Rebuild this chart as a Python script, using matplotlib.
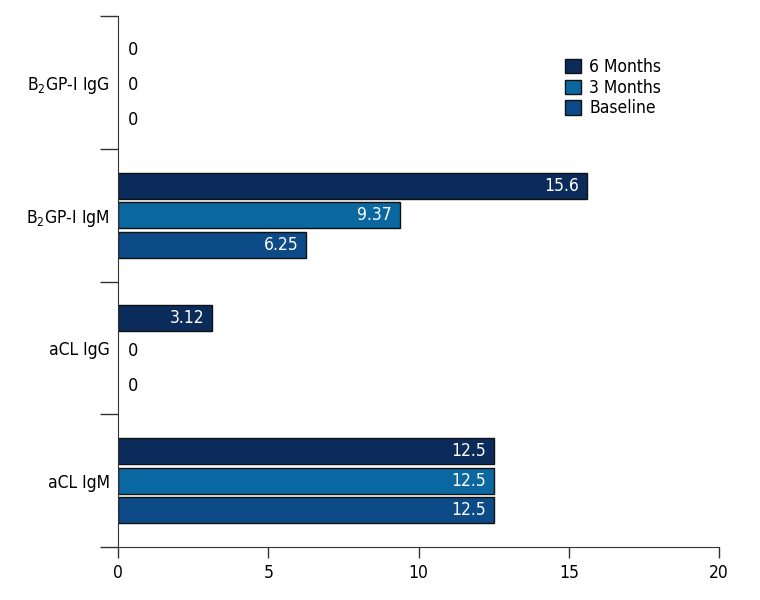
import numpy as np
import matplotlib
matplotlib.use('Agg')
import matplotlib.pyplot as plt
from matplotlib.patches import Patch

plt.rcParams['font.family'] = ['DejaVu Sans']
plt.rcParams['font.stretch'] = 'condensed'
plt.rcParams['mathtext.fontset'] = 'custom'
plt.rcParams['mathtext.rm'] = 'DejaVu Sans:stretch=condensed'

categories = ['aCL IgM', 'aCL IgG', 'B$_2$GP-I IgM', 'B$_2$GP-I IgG']
series = ['6 Months', '3 Months', 'Baseline']
six_months = [12.5, 3.12, 15.6, 0]
three_months = [12.5, 0, 9.37, 0]
baseline = [12.5, 0, 6.25, 0]
value_labels = {
    '6 Months': ['12.5', '3.12', '15.6', '0'],
    '3 Months': ['12.5', '0', '9.37', '0'],
    'Baseline': ['12.5', '0', '6.25', '0'],
}
colors = ['#0b2c5b', '#0a67a0', '#0c4a88']

fig = plt.figure(figsize=(7.6, 6), dpi=100)
ax = fig.add_axes([0.1553, 0.0883, 0.7908, 0.885])

y = np.arange(len(categories))
h = 0.195
offsets = [0.222, 0, -0.222]
for vals, name, c, off in zip([six_months, three_months, baseline], series, colors, offsets):
    vals = np.array(vals)
    nz = vals > 0
    ax.barh((y + off)[nz], vals[nz], height=h, color=c, edgecolor='#111111', linewidth=1)
    for yi, v, lab in zip(y, vals, value_labels[name]):
        if v > 0:
            ax.text(v - 0.25, yi + off, lab, color='white', ha='right', va='center', fontsize=12.5)
        else:
            ax.text(0.33, yi + off * 1.2 - 0.02, lab, color='black', ha='left', va='center', fontsize=13)

ax.set_xlim(0, 20)
ax.set_ylim(-0.5, 3.5)
ax.set_xticks([0, 5, 10, 15, 20])
ax.set_yticks(y)
ax.set_yticklabels(categories, fontsize=12.5)
ax.set_yticks([-0.5, 0.5, 1.5, 2.5, 3.5], minor=True)
ax.tick_params(axis='y', which='major', length=0, pad=6)
ax.tick_params(axis='y', which='minor', length=13, width=1, color='#333333')
ax.tick_params(axis='x', length=8, width=1, color='#333333', labelsize=12.5, pad=4)
for s in ['top', 'right']:
    ax.spines[s].set_visible(False)
for s in ['left', 'bottom']:
    ax.spines[s].set_color('#333333')

handles = [Patch(facecolor=c, edgecolor='#111111', label=n) for c, n in zip(colors, series)]
ax.legend(handles=handles, loc='upper left', bbox_to_anchor=(0.718, 0.95), frameon=False,
          fontsize=12.5, handlelength=0.9, handleheight=0.9, handletextpad=0.5,
          labelspacing=0.15)

fig.savefig('out.png', dpi=100)
